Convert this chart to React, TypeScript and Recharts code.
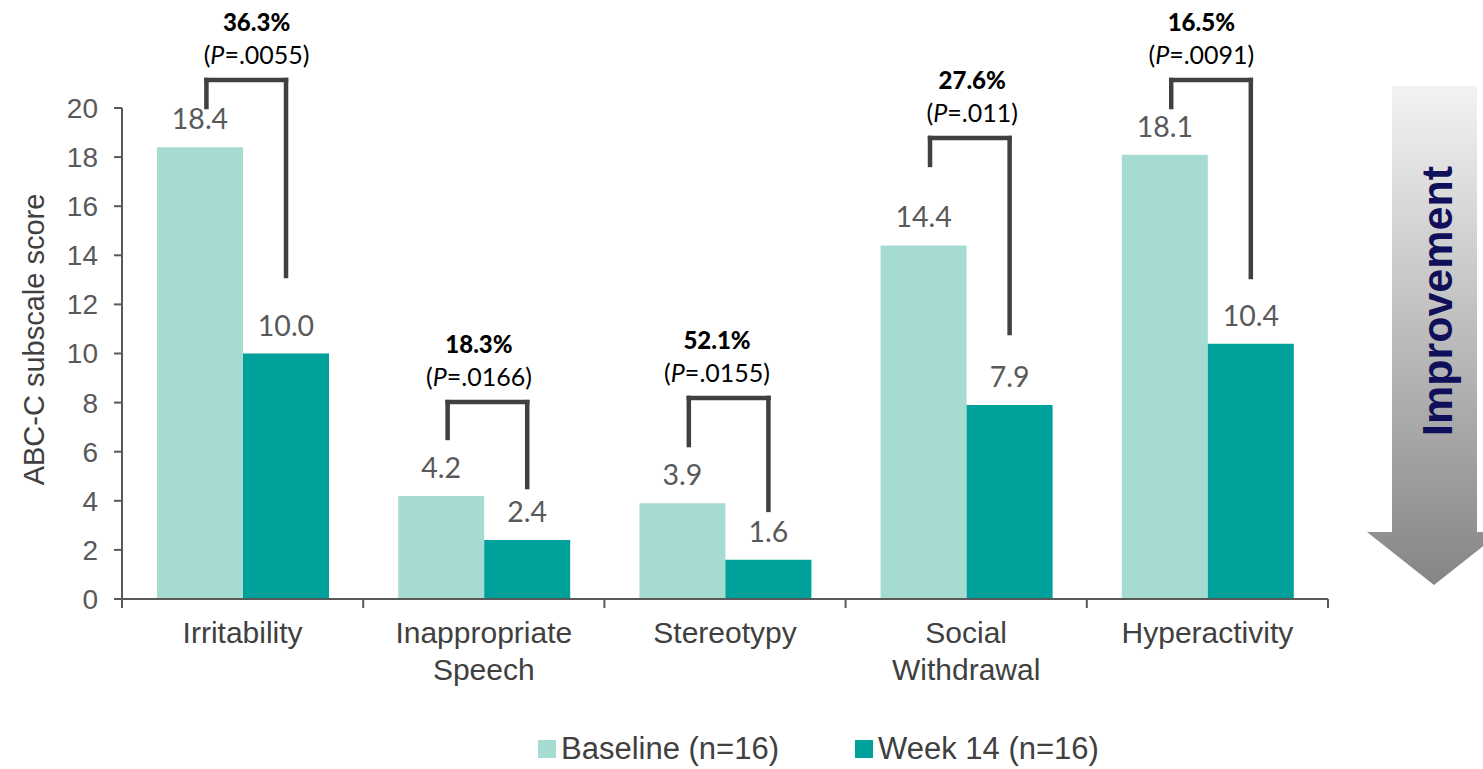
import React from 'react';
import {
  BarChart,
  Bar,
  XAxis,
  YAxis,
  Legend,
  LabelList,
  ReferenceLine,
  ReferenceDot,
} from 'recharts';

// ABC-C subscale scores at baseline and week 14
const categories = ['Irritability', 'Inappropriate Speech', 'Stereotypy', 'Social Withdrawal', 'Hyperactivity'];
const baselineScores = [18.4, 4.2, 3.9, 14.4, 18.1];
const week14Scores = [10.0, 2.4, 1.6, 7.9, 10.4];
const reductionPct = ['36.3%', '18.3%', '52.1%', '27.6%', '16.5%'];
const pValues = ['.0055', '.0166', '.0155', '.011', '.0091'];
const yTicks = [0, 2, 4, 6, 8, 10, 12, 14, 16, 18, 20];
const seriesNames = ['Baseline (n=16)', 'Week 14 (n=16)'];

// Heights (in score units) of each comparison bracket: top bar, left leg end, right leg end
const bracketTop = [21.14, 8.02, 8.19, 18.78, 21.14];
const bracketLeftEnd = [20.04, 6.56, 6.27, 17.68, 20.04];
const bracketRightEnd = [13.16, 4.56, 3.63, 10.83, 13.12];
// Horizontal nudge of each bracket caption, in position-axis units
const captionShift = [0.058, -0.02, -0.033, 0.025, -0.025];

// Categories sit at the centres of unit slots on a 0..5 position axis
const data = categories.map((name, i) => ({
  name,
  pos: i + 0.5,
  baseline: baselineScores[i],
  week14: week14Scores[i],
}));
const xTicks = [0, 0.5, 1, 1.5, 2, 2.5, 3, 3.5, 4, 4.5, 5];

const W = 1483;
const H = 769;
const ARIAL = '"Liberation Sans", Arial, sans-serif';
const CALIBRI = 'Lato, "Open Sans", sans-serif';
const BASE_COLOR = '#a6dbd2';
const WEEK_COLOR = '#00a19a';
const AXIS_COLOR = '#595959';
const BRACKET_COLOR = '#404040';

const ValueLabel = (props: any) => {
  const { x, y, width, value } = props;
  return (
    <text
      x={x + width / 2}
      y={y - 18}
      textAnchor="middle"
      fontFamily={CALIBRI}
      fontSize={28.5}
      fill="#595959"
    >
      {Number(value).toFixed(1)}
    </text>
  );
};

// Integer ticks mark category boundaries, half-integer ticks carry the category names.
const PositionTick = (props: any) => {
  const { x, y, payload } = props;
  const v = Number(payload.value);
  if (Math.abs(v - Math.round(v)) < 1e-6) {
    return <line x1={x} x2={x} y1={y} y2={y + 9} stroke={AXIS_COLOR} strokeWidth={2} />;
  }
  const lines = categories[Math.floor(v)].split(' ');
  return (
    <text x={x} y={y} textAnchor="middle" fontFamily={ARIAL} fontSize={30} fill="#404040">
      {lines.map((line, i) => (
        <tspan key={i} x={x} dy={i === 0 ? 44 : 37}>
          {line}
        </tspan>
      ))}
    </text>
  );
};

const YTitle = (props: any) => {
  const vb = props.viewBox || { x: 0, y: 108, width: 122, height: 491 };
  const cx = vb.x + 44;
  const cy = vb.y + vb.height / 2 - 14;
  return (
    <text
      x={cx}
      y={cy}
      transform={`rotate(-90, ${cx}, ${cy})`}
      textAnchor="middle"
      fontFamily={ARIAL}
      fontSize={29}
      fill="#404040"
    >
      ABC-C subscale score
    </text>
  );
};

const makeBracketText = (i: number) => (props: any) => {
  const { cx, cy } = props;
  return (
    <g>
      <text
        x={cx}
        y={cy - 58 + 9}
        textAnchor="middle"
        fontFamily={CALIBRI}
        fontWeight="900"
        fontSize={24}
        fill="#000000"
      >
        {reductionPct[i]}
      </text>
      <text x={cx} y={cy - 25 + 9} textAnchor="middle" fontFamily={CALIBRI} fontSize={25} fill="#000000">
        (<tspan fontStyle="italic">P</tspan>={pValues[i]})
      </text>
    </g>
  );
};

const LegendContent = () => {
  const colors = [BASE_COLOR, WEEK_COLOR];
  const squareLeft = [538, 855];
  return (
    <div style={{ position: 'relative', height: 46, width: '100%' }}>
      {seriesNames.map((name, i) => (
        <div
          key={name}
          style={{
            position: 'absolute',
            left: squareLeft[i],
            top: 3,
            height: 46,
            display: 'flex',
            alignItems: 'center',
            fontFamily: ARIAL,
            fontSize: 31,
            color: '#404040',
            whiteSpace: 'nowrap',
          }}
        >
          <span style={{ display: 'inline-block', width: 18, height: 18, background: colors[i], marginRight: 5 }} />
          <span>{name}</span>
        </div>
      ))}
    </div>
  );
};

const ImprovementArrow = () => (
  <svg width={W} height={H} style={{ position: 'absolute', left: 0, top: 0, pointerEvents: 'none' }}>
    <defs>
      <linearGradient id="improveFill" x1="0" y1="0" x2="0" y2="1">
        <stop offset="0%" stopColor="#f3f3f3" />
        <stop offset="100%" stopColor="#858585" />
      </linearGradient>
    </defs>
    <path d="M1392,86 H1477 V532 H1501 L1434,585 L1367,532 H1392 Z" fill="url(#improveFill)" />
    <text
      x={1452}
      y={301}
      transform="rotate(-90, 1452, 301)"
      textAnchor="middle"
      fontFamily={ARIAL}
      fontWeight="bold"
      fontSize={43}
      fill="#10105a"
    >
      Improvement
    </text>
  </svg>
);

export default function App() {
  return (
    <div style={{ position: 'absolute', left: 0, top: 0, width: W, height: H, background: '#ffffff' }}>
      <BarChart
        width={W}
        height={H}
        data={data}
        margin={{ top: 108, right: 155, bottom: 0, left: 0 }}
        barGap={0}
      >
        <XAxis
          dataKey="pos"
          type="number"
          domain={[0, 5]}
          ticks={xTicks}
          interval={0}
          tickSize={0}
          tickMargin={0}
          tickLine={false}
          axisLine={{ stroke: AXIS_COLOR, strokeWidth: 2 }}
          tick={<PositionTick />}
          height={124}
        />
        <YAxis
          domain={[0, 20]}
          ticks={yTicks}
          interval={0}
          width={122}
          tickSize={8}
          tickMargin={16}
          axisLine={{ stroke: AXIS_COLOR, strokeWidth: 2 }}
          tickLine={{ stroke: AXIS_COLOR, strokeWidth: 2 }}
          tick={{ fill: '#595959', fontSize: 28, fontFamily: ARIAL }}
          label={<YTitle />}
        />
        <Legend verticalAlign="bottom" height={46} content={<LegendContent />} />
        <Bar dataKey="baseline" name={seriesNames[0]} fill={BASE_COLOR} barSize={86} isAnimationActive={false}>
          <LabelList dataKey="baseline" content={<ValueLabel />} />
        </Bar>
        <Bar dataKey="week14" name={seriesNames[1]} fill={WEEK_COLOR} barSize={86} isAnimationActive={false}>
          <LabelList dataKey="week14" content={<ValueLabel />} />
        </Bar>
        {categories.map((name, i) => {
          const xl = i + 0.35;
          const xr = i + 0.68;
          const lineProps = {
            stroke: BRACKET_COLOR,
            strokeWidth: 4.5,
            strokeLinecap: 'square' as const,
            ifOverflow: 'visible' as const,
          };
          return (
            <React.Fragment key={name}>
              <ReferenceLine {...lineProps} segment={[{ x: xl, y: bracketLeftEnd[i] }, { x: xl, y: bracketTop[i] }]} />
              <ReferenceLine {...lineProps} segment={[{ x: xl, y: bracketTop[i] }, { x: xr, y: bracketTop[i] }]} />
              <ReferenceLine {...lineProps} segment={[{ x: xr, y: bracketTop[i] }, { x: xr, y: bracketRightEnd[i] }]} />
              <ReferenceDot
                x={i + 0.5 + captionShift[i]}
                y={bracketTop[i]}
                r={0}
                ifOverflow="visible"
                shape={makeBracketText(i)}
              />
            </React.Fragment>
          );
        })}
      </BarChart>
      <ImprovementArrow />
    </div>
  );
}
